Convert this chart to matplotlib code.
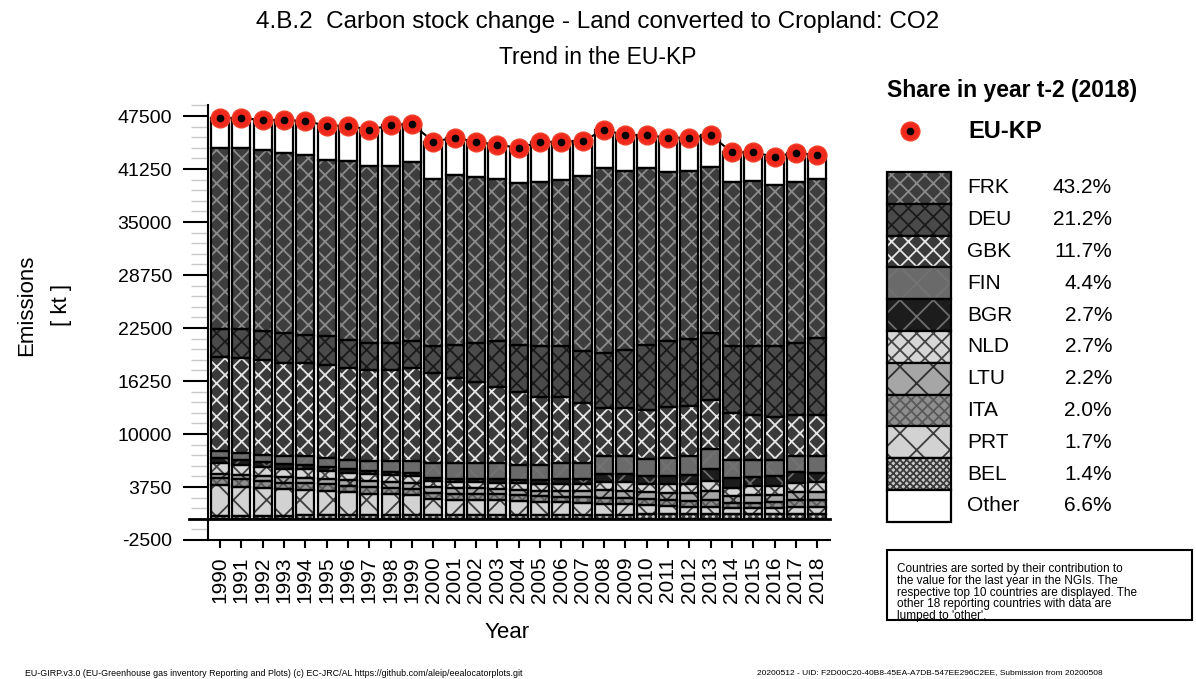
import numpy as np
import matplotlib
matplotlib.use("Agg")
import matplotlib.pyplot as plt
from matplotlib.patches import Rectangle
from matplotlib.ticker import MultipleLocator

plt.rcParams['font.family'] = ['Liberation Sans', 'DejaVu Sans']
plt.rcParams['hatch.linewidth'] = 1.3
plt.rcParams['axes.unicode_minus'] = False

# data (kt CO2)
years = list(range(1990, 2019))
eu_kp = [47230, 47260, 47030, 47030, 46910, 46360, 46360, 45880, 46400, 46590,
         44470, 44940, 44470, 44120, 43760, 44400, 44470, 44550, 45850, 45260,
         45260, 44940, 44940, 45260, 43220, 43220, 42700, 43170, 42900]
frk = [21320, 21320, 21400, 21270, 21200, 20810, 21080, 20810, 20920, 21200,
       19790, 20020, 19550, 19130, 19040, 19360, 19630, 20730, 21790, 21080,
       20810, 20020, 19820, 19620, 19430, 19510, 19040, 18960, 18730]
deu = [3230, 3420, 3340, 3540, 3340, 3340, 3340, 3220, 3150, 3140,
       3140, 3930, 4600, 5310, 5510, 5900, 5900, 6090, 6490, 6880,
       7670, 7670, 7860, 7870, 7860, 8060, 8260, 8530, 9050]
gbk = [11200, 11200, 11200, 10930, 11010, 11000, 10810, 10810, 10810, 11010,
       10610, 10020, 9620, 9030, 8640, 8050, 7850, 7070, 5700, 5700,
       5810, 6080, 5980, 5810, 5500, 5300, 5100, 4830, 4910]
fin = [800, 850, 900, 950, 1000, 1050, 1100, 1150, 1250, 1400,
       1800, 1850, 1850, 1900, 1800, 1850, 1900, 1900, 2100, 2100,
       2000, 2100, 2200, 2400, 2100, 2000, 1950, 1950, 1890]
bgr = [600, 550, 500, 550, 500, 450, 400, 350, 350, 300,
       350, 350, 400, 400, 400, 450, 550, 600, 900, 950,
       950, 1000, 1100, 1400, 1200, 1150, 1100, 1200, 1160]
nld = [1200, 1150, 1100, 1050, 1000, 950, 900, 850, 800, 800,
       700, 700, 700, 700, 750, 750, 800, 850, 1000, 1000,
       950, 1000, 1050, 1200, 1000, 1050, 1050, 1150, 1160]
ltu = [500, 550, 600, 600, 650, 650, 700, 700, 700, 700,
       700, 700, 700, 700, 650, 650, 700, 700, 850, 850,
       850, 850, 850, 1000, 800, 850, 850, 950, 940]
ita = [900, 850, 850, 800, 800, 800, 750, 750, 750, 700,
       700, 700, 700, 700, 700, 650, 650, 650, 750, 750,
       700, 700, 700, 800, 630, 650, 700, 800, 860]
prt = [3600, 3450, 3250, 3100, 3000, 2850, 2700, 2550, 2500, 2450,
       1900, 1850, 1800, 1750, 1650, 1600, 1550, 1450, 1250, 1200,
       1050, 950, 900, 820, 630, 660, 710, 780, 730]
bel = [340, 350, 350, 380, 400, 410, 410, 410, 410, 410,
       420, 420, 420, 420, 420, 420, 420, 420, 500, 500,
       540, 560, 550, 600, 600, 600, 600, 600, 610]
other = [3540, 3570, 3540, 3860, 4010, 4050, 4170, 4280, 4760, 4480,
         4360, 4400, 4130, 4080, 4200, 4720, 4520, 4090, 4520, 4250,
         3930, 4010, 3930, 3740, 3470, 3390, 3340, 3420, 2860]

legend_names = ["FRK", "DEU", "GBK", "FIN", "BGR", "NLD", "LTU", "ITA", "PRT", "BEL", "Other"]
legend_shares = ["43.2%", "21.2%", "11.7%", "4.4%", "2.7%", "2.7%", "2.2%", "2.0%", "1.7%", "1.4%", "6.6%"]
series = {"FRK": frk, "DEU": deu, "GBK": gbk, "FIN": fin, "BGR": bgr, "NLD": nld,
          "LTU": ltu, "ITA": ita, "PRT": prt, "BEL": bel, "Other": other}
# bottom to top
stack_order = ["BEL", "PRT", "ITA", "LTU", "NLD", "BGR", "FIN", "GBK", "DEU", "FRK", "Other"]

# face colour, hatch, hatch colour
styles = {
    "FRK": ("#3d3d3d", "xx", "#8a8a8a"),
    "DEU": ("#4a4a4a", "xx", "#1a1a1a"),
    "GBK": ("#3a3a3a", "xx", "#e6e6e6"),
    "FIN": ("#6a6a6a", "x", "#737373"),
    "BGR": ("#1c1c1c", "x", "#6e6e6e"),
    "NLD": ("#d6d6d6", "xx", "#444444"),
    "LTU": ("#a6a6a6", "x", "#2e2e2e"),
    "ITA": ("#8e8e8e", "xxx", "#5a5a5a"),
    "PRT": ("#d2d2d2", "x", "#3c3c3c"),
    "BEL": ("#c8c8c8", "xxxxx", "#3c3c3c"),
    "Other": ("white", "", "black"),
}

W, H = 1196, 679
fig = plt.figure(figsize=(W / 100, H / 100), dpi=100)

def px(x0, y0, x1, y1):
    return [x0 / W, 1 - y1 / H, (x1 - x0) / W, (y1 - y0) / H]

ax = fig.add_axes(px(208, 105, 830, 540))

bottom = np.zeros(len(years))
for name in stack_order:
    vals = np.array(series[name], dtype=float)
    face, hatch, hc = styles[name]
    ax.bar(years, vals, 0.85, bottom=bottom, color=face, hatch=hatch,
           edgecolor=hc, linewidth=0, zorder=2)
    ax.bar(years, vals, 0.85, bottom=bottom, fill=False, edgecolor="black",
           linewidth=1.6, zorder=3)
    bottom += vals

ax.plot(years, eu_kp, color="black", lw=1.5, zorder=5, clip_on=False)
ax.plot(years, eu_kp, "o", ms=13.5, mfc="#f0281c", mec="#f0402a", mew=1, zorder=6, clip_on=False)
ax.plot(years, eu_kp, "o", ms=4.5, color="black", zorder=7, clip_on=False)

ax.axhline(0, xmin=-0.03, xmax=1.0, color="black", lw=2, clip_on=False, zorder=4)

ax.set_xlim(1989.44, 2018.6)
ax.set_ylim(-2500, 48800)
ax.set_yticks([-2500, 3750, 10000, 16250, 22500, 28750, 35000, 41250, 47500])
ax.yaxis.set_minor_locator(MultipleLocator(1250))
ax.set_xticks(years)
ax.set_xticklabels([str(y) for y in years], rotation=90)
ax.tick_params(axis="y", which="major", length=18, width=1.5, pad=8, labelsize=14)
ax.tick_params(axis="y", which="minor", length=12, width=1, color="#c8c8c8")
ax.tick_params(axis="x", length=6, width=1.5, pad=6, labelsize=15)
for s in ["top", "right"]:
    ax.spines[s].set_visible(False)
ax.spines["left"].set_linewidth(1.5)
ax.spines["bottom"].set_linewidth(1.5)

fig.text(507 / W, 1 - 633 / H, "Year", ha="center", va="center", fontsize=16)
fig.text(27 / W, 1 - 305 / H, "Emissions", ha="center", va="center", rotation=90, fontsize=16)
fig.text(62 / W, 1 - 305 / H, "[ kt ]", ha="center", va="center", rotation=90, fontsize=16)

fig.text(0.5, 1 - 22 / H, "4.B.2  Carbon stock change - Land converted to Cropland: CO2",
         ha="center", va="center", fontsize=17.5)
fig.text(0.5, 1 - 58 / H, "Trend in the EU-KP", ha="center", va="center", fontsize=16.5)

# legend panel drawn in pixel units
lax = fig.add_axes(px(870, 60, 1196, 660))
lax.set_xlim(870, 1196)
lax.set_ylim(660, 60)
lax.axis("off")
lax.text(887, 90, "Share in year t-2 (2018)", ha="left", va="center", fontsize=16.5, fontweight="bold")
lax.plot([910], [131], "o", ms=13.5, mfc="#f0281c", mec="#f0402a", clip_on=False)
lax.plot([910], [131], "o", ms=4.5, color="black", clip_on=False)
lax.text(968, 131, "EU-KP", ha="left", va="center", fontsize=17, fontweight="bold")

row_h = 31.8
y0 = 172
for i, name in enumerate(legend_names):
    face, hatch, hc = styles[name]
    yt = y0 + i * row_h
    lax.add_patch(Rectangle((887, yt), 64, row_h, facecolor=face, hatch=hatch,
                            edgecolor=hc, linewidth=0))
    lax.add_patch(Rectangle((887, yt), 64, row_h, fill=False, edgecolor="black", linewidth=1.6))
    lax.text(967, yt + row_h / 2, name, ha="left", va="center", fontsize=15)
    lax.text(1112, yt + row_h / 2, legend_shares[i], ha="right", va="center", fontsize=15)

lax.add_patch(Rectangle((887, 550), 305, 70, fill=False, edgecolor="black", linewidth=1.5))
note = ("Countries are sorted by their contribution to\n"
        "the value for the last year in the NGIs. The\n"
        "respective top 10 countries are displayed. The\n"
        "other 18 reporting countries with data are\n"
        "lumped to 'other'.")
lax.text(897, 563, note, ha="left", va="top", fontsize=8.5, linespacing=0.98)

fig.text(25 / W, 1 - 673 / H,
         "EU-GIRP.v3.0 (EU-Greenhouse gas inventory Reporting and Plots) (c) EC-JRC/AL https://github.com/aleip/eealocatorplots.git",
         ha="left", va="center", fontsize=6.4)
fig.text(1103 / W, 1 - 673 / H,
         "20200512 - UID: F2D00C20-40B8-45EA-A7DB-547EE296C2EE, Submission from 20200508",
         ha="right", va="center", fontsize=6)

fig.savefig("out.png", dpi=100)
